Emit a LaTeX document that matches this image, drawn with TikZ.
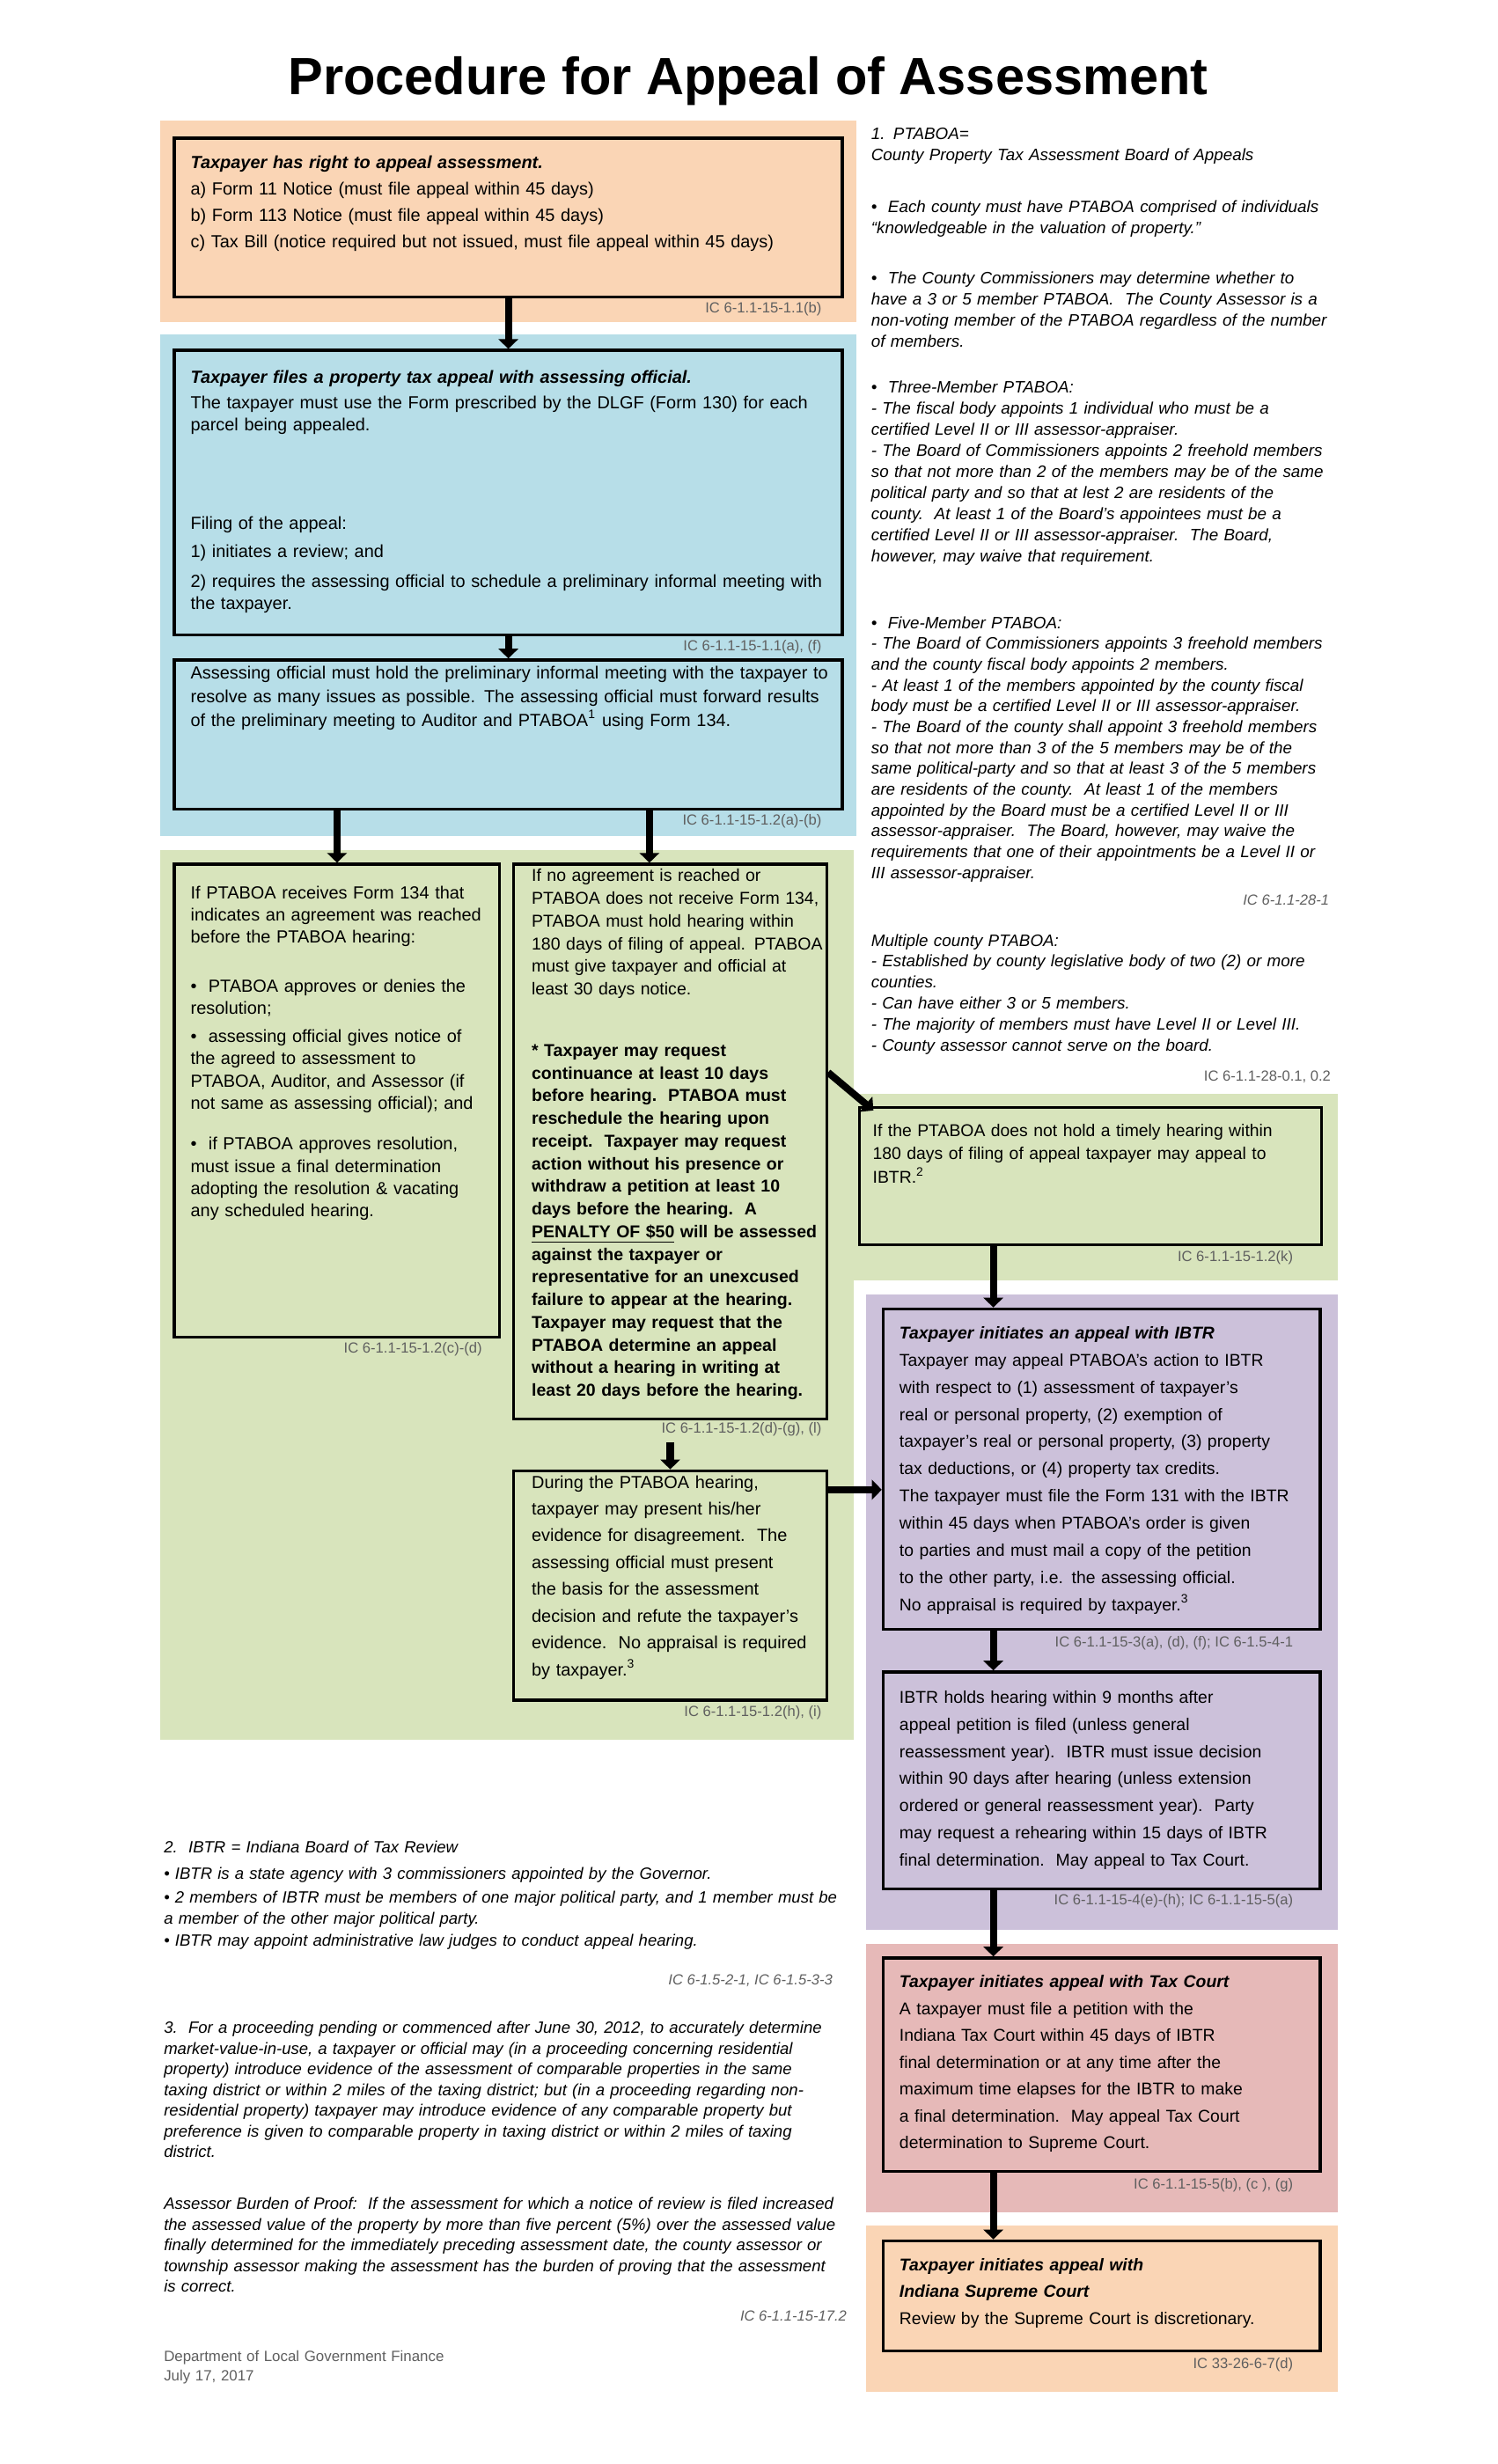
\documentclass[tikz,border=0pt]{standalone}
\usepackage{fontspec}
\setmainfont{Liberation Sans}
\usetikzlibrary{arrows.meta}

\definecolor{peachband}{RGB}{250,213,181}
\definecolor{blueband}{RGB}{183,222,232}
\definecolor{greenband}{RGB}{216,228,188}
\definecolor{purpleband}{RGB}{204,193,218}
\definecolor{pinkband}{RGB}{230,185,184}
\definecolor{citegray}{RGB}{95,95,95}

% one pixel of the page grid
\newcommand{\pxu}{0.2267mm}

\begin{document}
\begin{tikzpicture}[x=0.2267mm, y=-0.2267mm,
    box/.style={draw=black, line width=1.2pt, anchor=north west, inner sep=0pt},
    boxtext/.style={anchor=base west, inner sep=0pt, text width=125mm, align=left},
    note/.style={anchor=base west, inner sep=0pt, text width=125mm, align=left},
    cite/.style={anchor=base east, inner sep=0pt, font=\fontsize{6}{7}\selectfont, text=citegray},
    arrow/.style={-{Triangle[length=4pt,width=8pt]}, line width=2.9pt},
]
\useasboundingbox (0,0) rectangle (953,1568);

% Title
\node[anchor=base, inner sep=0pt, font=\fontsize{21.5}{24}\selectfont\bfseries] (title) at (476,60) {Procedure for Appeal of Assessment};

% Colour bands
\fill[peachband] (102,77) rectangle (545,205);
\fill[blueband] (102,213) rectangle (545,532);
\fill[greenband] (102,541) rectangle (543,1107);
\fill[greenband] (543,696) rectangle (851,815);
\fill[purpleband] (551,824) rectangle (851,1228);
\fill[pinkband] (551,1237) rectangle (851,1408);
\fill[peachband] (551,1416) rectangle (851,1522);

% Right to appeal
\node[box, minimum width=425*\pxu, minimum height=101*\pxu] (rights) at (110,87) {};
\node[boxtext, font=\fontsize{7.2}{10.9}\selectfont] (rightstxt) at (121,107) {\textbf{\textit{Taxpayer has right to appeal assessment.}}\\
a) Form 11 Notice (must file appeal within 45 days)\\
b) Form 113 Notice (must file appeal within 45 days)\\
c) Tax Bill (notice required but not issued, must file appeal within 45 days)};
\node[cite] (rightscite) at (523,199) {IC 6-1.1-15-1.1(b)};

% Filing with assessing official
\node[box, minimum width=425*\pxu, minimum height=181*\pxu] (filing) at (110,222) {};
\node[boxtext, font=\fontsize{7.2}{9}\selectfont] (filingtxt) at (121,244) {\textbf{\textit{Taxpayer files a property tax appeal with assessing official.}}\\[1.3pt]
The taxpayer must use the Form prescribed by the DLGF (Form 130) for each\\
parcel being appealed.\\[31.6pt]
Filing of the appeal:\\[2.6pt]
1) initiates a review; and\\[3.3pt]
2) requires the assessing official to schedule a preliminary informal meeting with\\
the taxpayer.};
\node[cite] (filingcite) at (523,414) {IC 6-1.1-15-1.1(a), (f)};

% Preliminary meeting
\node[box, minimum width=425*\pxu, minimum height=95*\pxu] (prelim) at (110,419) {};
\node[boxtext, font=\fontsize{7.2}{9.7}\selectfont] (prelimtxt) at (121,432) {Assessing official must hold the preliminary informal meeting with the taxpayer to\\
resolve as many issues as possible. The assessing official must forward results\\
of the preliminary meeting to Auditor and PTABOA\textsuperscript{1} using Form 134.};
\node[cite] (prelimcite) at (523,525) {IC 6-1.1-15-1.2(a)-(b)};

% Agreement reached
\node[box, minimum width=207*\pxu, minimum height=301*\pxu] (agree) at (110,549) {};
\node[boxtext, font=\fontsize{7.2}{9.1}\selectfont] (agreetxt) at (121,572) {If PTABOA receives Form 134 that\\
indicates an agreement was reached\\
before the PTABOA hearing:\\[10.9pt]
\textbullet\ \ PTABOA approves or denies the\\
resolution;\\[2.6pt]
\textbullet\ \ assessing official gives notice of\\
the agreed to assessment to\\
PTABOA, Auditor, and Assessor (if\\
not same as assessing official); and\\[7.7pt]
\textbullet\ \ if PTABOA approves resolution,\\
must issue a final determination\\
adopting the resolution \& vacating\\
any scheduled hearing.};
\node[cite] (agreecite) at (307,861) {IC 6-1.1-15-1.2(c)-(d)};

% No agreement
\node[box, minimum width=199*\pxu, minimum height=353*\pxu] (noagree) at (326,549) {};
\node[boxtext, font=\fontsize{7.05}{9.3}\selectfont] (noagreetxt) at (338,561) {If no agreement is reached or\\
PTABOA does not receive Form 134,\\
PTABOA must hold hearing within\\
180 days of filing of appeal. PTABOA\\
must give taxpayer and official at\\
least 30 days notice.\\[15.9pt]
{\bfseries * Taxpayer may request\\
continuance at least 10 days\\
before hearing.\ \ PTABOA must\\
reschedule the hearing upon\\
receipt.\ \ Taxpayer may request\\
action without his presence or\\
withdraw a petition at least 10\\
days before the hearing.\ \ A\\
\underline{PENALTY OF \$50} will be assessed\\
against the taxpayer or\\
representative for an unexcused\\
failure to appear at the hearing.\\
Taxpayer may request that the\\
PTABOA determine an appeal\\
without a hearing in writing at\\
least 20 days before the hearing.}};
\node[cite] (noagreecite) at (523,912) {IC 6-1.1-15-1.2(d)-(g), (l)};

% PTABOA hearing
\node[box, minimum width=199*\pxu, minimum height=146*\pxu] (hearing) at (326,935) {};
\node[boxtext, font=\fontsize{7.2}{11}\selectfont] (hearingtxt) at (338,947) {During the PTABOA hearing,\\
taxpayer may present his/her\\
evidence for disagreement.\ \ The\\
assessing official must present\\
the basis for the assessment\\
decision and refute the taxpayer's\\
evidence.\ \ No appraisal is required\\
by taxpayer.\textsuperscript{3}};
\node[cite] (hearingcite) at (523,1092) {IC 6-1.1-15-1.2(h), (i)};

% No timely hearing
\node[box, minimum width=294*\pxu, minimum height=87*\pxu] (timely) at (546,704) {};
\node[boxtext, font=\fontsize{7}{9.7}\selectfont] (timelytxt) at (555,723) {If the PTABOA does not hold a timely hearing within\\
180 days of filing of appeal taxpayer may appeal to\\
IBTR.\textsuperscript{2}};
\node[cite] (timelycite) at (823,803) {IC 6-1.1-15-1.2(k)};

% Appeal with IBTR
\node[box, minimum width=278*\pxu, minimum height=204*\pxu] (ibtr) at (561,832) {};
\node[boxtext, font=\fontsize{7}{11.15}\selectfont] (ibtrtxt) at (572,852) {\textbf{\textit{Taxpayer initiates an appeal with IBTR}}\\
Taxpayer may appeal PTABOA's action to IBTR\\
with respect to (1) assessment of taxpayer's\\
real or personal property, (2) exemption of\\
taxpayer's real or personal property, (3) property\\
tax deductions, or (4) property tax credits.\\
The taxpayer must file the Form 131 with the IBTR\\
within 45 days when PTABOA's order is given\\
to parties and must mail a copy of the petition\\
to the other party, i.e. the assessing official.\\
No appraisal is required by taxpayer.\textsuperscript{3}};
\node[cite] (ibtrcite) at (823,1048) {IC 6-1.1-15-3(a), (d), (f); IC 6-1.5-4-1};

% IBTR hearing
\node[box, minimum width=278*\pxu, minimum height=138*\pxu] (board) at (561,1063) {};
\node[boxtext, font=\fontsize{7}{11.1}\selectfont] (boardtxt) at (572,1084) {IBTR holds hearing within 9 months after\\
appeal petition is filed (unless general\\
reassessment year).\ \ IBTR must issue decision\\
within 90 days after hearing (unless extension\\
ordered or general reassessment year).\ \ Party\\
may request a rehearing within 15 days of IBTR\\
final determination.\ \ May appeal to Tax Court.};
\node[cite] (boardcite) at (823,1212) {IC 6-1.1-15-4(e)-(h); IC 6-1.1-15-5(a)};

% Tax Court
\node[box, minimum width=278*\pxu, minimum height=136*\pxu] (court) at (561,1245) {};
\node[boxtext, font=\fontsize{7}{11}\selectfont] (courttxt) at (572,1265) {\textbf{\textit{Taxpayer initiates appeal with Tax Court}}\\
A taxpayer must file a petition with the\\
Indiana Tax Court within 45 days of IBTR\\
final determination or at any time after the\\
maximum time elapses for the IBTR to make\\
a final determination.\ \ May appeal Tax Court\\
determination to Supreme Court.};
\node[cite] (courtcite) at (823,1393) {IC 6-1.1-15-5(b), (c ), (g)};

% Supreme Court
\node[box, minimum width=278*\pxu, minimum height=70*\pxu] (supreme) at (561,1425) {};
\node[boxtext, font=\fontsize{7}{11}\selectfont] (supremetxt) at (572,1445) {\textbf{\textit{Taxpayer initiates appeal with}}\\
\textbf{\textit{Indiana Supreme Court}}\\
Review by the Supreme Court is discretionary.};
\node[cite] (supremecite) at (823,1507) {IC 33-26-6-7(d)};

% Connectors
\coordinate (spine) at (632,0);
\draw[arrow] (rights.south) -- (filing.north);
\draw[arrow] (filing.south) -- (prelim.north);
\draw[arrow] (agree.north |- prelim.south) -- (agree.north);
\draw[arrow] ([xshift=-3mm]noagree.north |- prelim.south) -- ([xshift=-3mm]noagree.north);
\draw[arrow] ([yshift=3.9mm]hearing.north) -- (hearing.north);
\draw[arrow] ([yshift=44*\pxu]noagree.east) -- ([shift={(2.2mm,-0.6mm)}]timely.north west);
\draw[arrow] ([yshift=-13*\pxu]hearing.north east) -- ([yshift=-13*\pxu]hearing.north east -| ibtr.west);
\draw[arrow] (spine |- timely.south) -- (spine |- ibtr.north);
\draw[arrow] (spine |- ibtr.south) -- (spine |- board.north);
\draw[arrow] (spine |- board.south) -- (spine |- court.north);
\draw[arrow] (spine |- court.south) -- (spine |- supreme.north);

% Note 1: PTABOA
\node[note, font=\fontsize{6.8}{8.65}\selectfont\itshape] (ptaboanote) at (554,89) {1. PTABOA=\\
County Property Tax Assessment Board of Appeals\\[12.6pt]
\textbullet\ \ Each county must have PTABOA comprised of individuals\\
``knowledgeable in the valuation of property.''\\[12pt]
\textbullet\ \ The County Commissioners may determine whether to\\
have a 3 or 5 member PTABOA.\ \ The County Assessor is a\\
non-voting member of the PTABOA regardless of the number\\
of members.};
\node[note, font=\fontsize{6.8}{8.65}\selectfont\itshape] (threenote) at (554,250) {\textbullet\ \ Three-Member PTABOA:\\
- The fiscal body appoints 1 individual who must be a\\
certified Level II or III assessor-appraiser.\\
- The Board of Commissioners appoints 2 freehold members\\
so that not more than 2 of the members may be of the same\\
political party and so that at lest 2 are residents of the\\
county.\ \ At least 1 of the Board's appointees must be a\\
certified Level II or III assessor-appraiser.\ \ The Board,\\
however, may waive that requirement.};
\node[note, font=\fontsize{6.8}{8.55}\selectfont\itshape] (fivenote) at (554,400) {\textbullet\ \ Five-Member PTABOA:\\
- The Board of Commissioners appoints 3 freehold members\\
and the county fiscal body appoints 2 members.\\
- At least 1 of the members appointed by the county fiscal\\
body must be a certified Level II or III assessor-appraiser.\\
- The Board of the county shall appoint 3 freehold members\\
so that not more than 3 of the 5 members may be of the\\
same political-party and so that at least 3 of the 5 members\\
are residents of the county.\ \ At least 1 of the members\\
appointed by the Board must be a certified Level II or III\\
assessor-appraiser.\ \ The Board, however, may waive the\\
requirements that one of their appointments be a Level II or\\
III assessor-appraiser.};
\node[cite, font=\fontsize{6}{7}\selectfont\itshape] (fivecite) at (846,576) {IC 6-1.1-28-1};
\node[note, font=\fontsize{6.8}{8.65}\selectfont\itshape] (multinote) at (554,602) {Multiple county PTABOA:\\
- Established by county legislative body of two (2) or more\\
counties.\\
- Can have either 3 or 5 members.\\
- The majority of members must have Level II or Level III.\\
- County assessor cannot serve on the board.};
\node[cite] (multicite) at (847,688) {IC 6-1.1-28-0.1, 0.2};

% Note 2: IBTR
\node[note, font=\fontsize{6.7}{8.6}\selectfont\itshape] (ibtrnote) at (104,1179) {2.\ \ IBTR = Indiana Board of Tax Review\\[2.4pt]
\textbullet\ IBTR is a state agency with 3 commissioners appointed by the Governor.\\[1.1pt]
\textbullet\ 2 members of IBTR must be members of one major political party, and 1 member must be\\
a member of the other major political party.\\[0.4pt]
\textbullet\ IBTR may appoint administrative law judges to conduct appeal hearing.};
\node[cite, font=\fontsize{6}{7}\selectfont\itshape] (ibtrnotecite) at (530,1263) {IC 6-1.5-2-1, IC 6-1.5-3-3};

% Note 3: evidence
\node[note, font=\fontsize{6.7}{8.5}\selectfont\itshape] (evidnote) at (104,1294) {3.\ \ For a proceeding pending or commenced after June 30, 2012, to accurately determine\\
market-value-in-use, a taxpayer or official may (in a proceeding concerning residential\\
property) introduce evidence of the assessment of comparable properties in the same\\
taxing district or within 2 miles of the taxing district; but (in a proceeding regarding non-\\
residential property) taxpayer may introduce evidence of any comparable property but\\
preference is given to comparable property in taxing district or within 2 miles of taxing\\
district.};
\node[note, font=\fontsize{6.7}{8.5}\selectfont\itshape] (burdennote) at (104,1406) {Assessor Burden of Proof:\ \ If the assessment for which a notice of review is filed increased\\
the assessed value of the property by more than five percent (5\%) over the assessed value\\
finally determined for the immediately preceding assessment date, the county assessor or\\
township assessor making the assessment has the burden of proving that the assessment\\
is correct.};
\node[cite, font=\fontsize{6}{7}\selectfont\itshape] (burdencite) at (539,1477) {IC 6-1.1-15-17.2};

% Footer
\node[note, font=\fontsize{6.1}{7.7}\selectfont, text=citegray] (dlgf) at (104,1503) {Department of Local Government Finance\\
July 17, 2017};

\end{tikzpicture}
\end{document}
